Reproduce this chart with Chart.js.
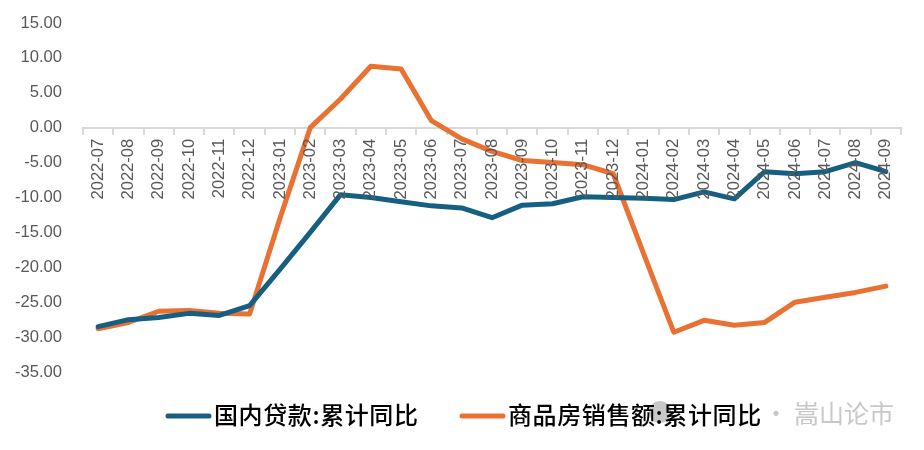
<!DOCTYPE html>
<html>
<head>
<meta charset="utf-8">
<script src="https://cdn.jsdelivr.net/npm/chart.js@4"></script>
<style>
  html, body { margin: 0; padding: 0; background: #ffffff; }
  #wrap { width: 924px; height: 450px; }
</style>
</head>
<body>
<div id="wrap"><canvas id="chart"></canvas></div>
<script>
const months = [
  "2022-07", "2022-08", "2022-09", "2022-10", "2022-11", "2022-12",
  "2023-01", "2023-02", "2023-03", "2023-04", "2023-05", "2023-06",
  "2023-07", "2023-08", "2023-09", "2023-10", "2023-11", "2023-12",
  "2024-01", "2024-02", "2024-03", "2024-04", "2024-05", "2024-06",
  "2024-07", "2024-08", "2024-09",
]
const loans = [
  -28.5, -27.5, -27.2, -26.6, -26.9, -25.5, -20.3, -15.0, -9.6, -10.0, -10.6, -11.2, -11.5, -12.9,
  -11.1, -10.9, -9.9, -10.0, -10.1, -10.3, -9.2, -10.2, -6.3, -6.6, -6.3, -5.0, -6.3,
]
const sales = [
  -28.8, -27.9, -26.3, -26.2, -26.6, -26.7, -13.0, 0.0, 4.1, 8.8, 8.4, 1.0, -1.6, -3.4,
  -4.7, -5.0, -5.3, -6.6, -18.0, -29.3, -27.6, -28.3, -27.9, -25.0, -24.3, -23.6, -22.7,
]
const loansName = "国内贷款:累计同比"
const salesName = "商品房销售额:累计同比"
const watermark = "· 嵩山论市"

const latin = "'Liberation Sans', Arial, sans-serif"
const cjk = "'Noto Sans CJK SC', sans-serif"

// the stock legend forces a fontSize/2 gap after the swatch, too wide here
const keyPlugin = {
  id: "key",
  beforeDraw(chart) {
    const ctx = chart.ctx
    ctx.save()
    ctx.fillStyle = "#c8c8c8"
    ctx.beginPath()
    ctx.arc(660, 412, 11, 0, Math.PI * 2)
    ctx.fill()
    ctx.font = "25px " + cjk
    ctx.textBaseline = "middle"
    ctx.textAlign = "right"
    ctx.fillText(watermark, 894, 413)
    ctx.restore()
  },
  afterDraw(chart) {
    const ctx = chart.ctx
    const starts = [166, 460]
    chart.data.datasets.forEach((ds, i) => {
      const x = starts[i]
      ctx.save()
      ctx.strokeStyle = ds.borderColor
      ctx.lineWidth = 5
      ctx.lineCap = "round"
      ctx.beginPath()
      ctx.moveTo(x + 2, 416)
      ctx.lineTo(x + 43, 416)
      ctx.stroke()
      ctx.fillStyle = "#000000"
      ctx.font = "500 24px " + cjk
      ctx.letterSpacing = "0.6px"
      ctx.textBaseline = "middle"
      ctx.fillText(ds.label, x + 48, 415)
      ctx.restore()
    })
  },
}

new Chart(document.getElementById("chart"), {
  type: "line",
  plugins: [keyPlugin],
  data: {
    labels: months,
    datasets: [
      {
        label: loansName,
        data: loans,
        borderColor: "#156082",
        backgroundColor: "#156082",
        borderWidth: 5,
        pointRadius: 0,
        tension: 0,
        borderCapStyle: "round",
        borderJoinStyle: "round",
      },
      {
        label: salesName,
        data: sales,
        borderColor: "#E97132",
        backgroundColor: "#E97132",
        borderWidth: 5,
        pointRadius: 0,
        tension: 0,
        borderCapStyle: "round",
        borderJoinStyle: "round",
      },
    ],
  },
  options: {
    responsive: true,
    maintainAspectRatio: false,
    animation: false,
    layout: {
      padding: { left: 0, right: 23, top: 17, bottom: 78 },
    },
    scales: {
      x: {
        position: { y: 0 },
        offset: true,
        border: { color: "#d9d9d9", width: 2 },
        grid: { drawOnChartArea: false, color: "#d9d9d9", lineWidth: 2, tickLength: 6, offset: true },
        ticks: {
          color: "#595959",
          font: { family: latin, size: 16.6 },
          minRotation: 90,
          maxRotation: 90,
          autoSkip: false,
          padding: 5,
          z: 1,
        },
      },
      y: {
        min: -35,
        max: 15,
        afterFit(scale) { scale.width = 83 },
        border: { display: false },
        grid: { display: false },
        ticks: {
          stepSize: 5,
          color: "#595959",
          padding: 13,
          font: { family: latin, size: 16.6 },
          callback: (value) => value.toFixed(2),
        },
      },
    },
    plugins: {
      tooltip: { enabled: false },
      legend: { display: false },
    },
  },
})
</script>
</body>
</html>
